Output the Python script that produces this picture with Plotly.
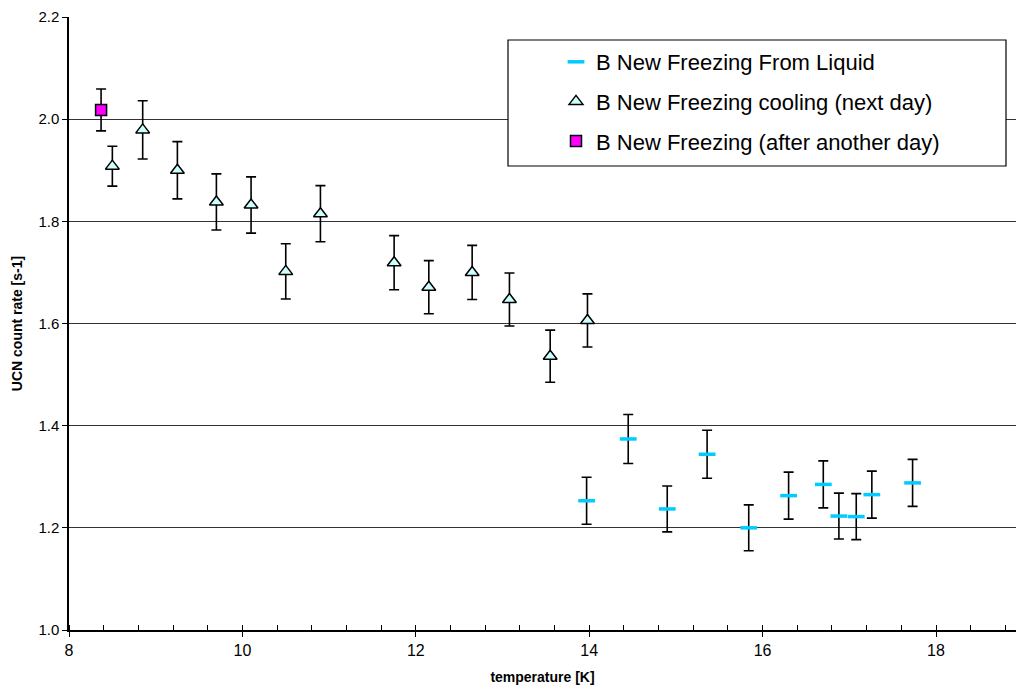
import plotly.graph_objects as go

# Series: B New Freezing From Liquid
liq_T = [13.97, 14.45, 14.90, 15.36, 15.84, 16.30, 16.70, 16.88, 17.08, 17.26, 17.73]
liq_R = [1.253, 1.374, 1.237, 1.344, 1.200, 1.263, 1.285, 1.223, 1.222, 1.265, 1.288]
liq_E = [0.046, 0.048, 0.045, 0.047, 0.045, 0.046, 0.046, 0.045, 0.045, 0.046, 0.046]

# Series: B New Freezing cooling (next day)
cool_T = [8.50, 8.85, 9.25, 9.70, 10.10, 10.50, 10.90, 11.75, 12.15, 12.65, 13.08, 13.55, 13.98]
cool_R = [1.908, 1.979, 1.900, 1.838, 1.832, 1.702, 1.815, 1.719, 1.671, 1.700, 1.647, 1.536, 1.606]
cool_E = [0.039, 0.057, 0.056, 0.055, 0.055, 0.054, 0.055, 0.053, 0.052, 0.053, 0.052, 0.051, 0.052]

# Series: B New Freezing (after another day)
day_T = [8.37]
day_R = [2.018]
day_E = [0.041]

names = ["B New Freezing From Liquid",
         "B New Freezing cooling (next day)",
         "B New Freezing (after another day)"]

x_ticks = [8, 10, 12, 14, 16, 18]
y_ticks = [1.0, 1.2, 1.4, 1.6, 1.8, 2.0, 2.2]

FONT = "Liberation Sans, Arial, sans-serif"

err_style = dict(type="data", visible=True, color="black", thickness=1.6, width=5)

fig = go.Figure()
fig.add_trace(go.Scatter(
    x=liq_T, y=liq_R, mode="markers", name=names[0], legendgroup="a",
    error_y=dict(array=liq_E, **err_style),
    marker=dict(symbol="line-ew", size=12, line=dict(color="#00CCFF", width=3.5)),
))
fig.add_trace(go.Scatter(
    x=cool_T, y=cool_R, mode="markers", name=names[1], legendgroup="b",
    error_y=dict(array=cool_E, **err_style),
    marker=dict(symbol="triangle-up", size=12, color="#CCFFFF",
                line=dict(color="black", width=1.5)),
))
fig.add_trace(go.Scatter(
    x=day_T, y=day_R, mode="markers", name=names[2], legendgroup="c",
    error_y=dict(array=day_E, **err_style),
    marker=dict(symbol="square", size=11, color="#FF00FF",
                line=dict(color="black", width=1.5)),
))

W, H = 1016, 692
L, R, T, B = 69, 0, 17, 62

# legend frame
fig.add_shape(type="rect", xref="paper", yref="paper",
              x0=(508 - L) / (W - L - R), x1=(1006 - L) / (W - L - R),
              y0=(H - B - 166) / (H - T - B), y1=(H - B - 40) / (H - T - B),
              line=dict(color="black", width=1.2), fillcolor="white", layer="above")

fig.update_layout(
    width=W, height=H,
    margin=dict(l=L, r=R, t=T, b=B),
    paper_bgcolor="white", plot_bgcolor="white",
    font=dict(family=FONT, color="black"),
    showlegend=True,
    legend=dict(
        x=(556 - L) / (W - L - R), xanchor="left",
        y=(H - B - 41) / (H - T - B), yanchor="top",
        bgcolor="rgba(0,0,0,0)", borderwidth=0,
        font=dict(size=22, family=FONT, color="black"),
        traceorder="grouped", tracegroupgap=8,
        itemwidth=30,
    ),
    xaxis=dict(
        range=[8, 8 + (W - L - R) / 86.7],
        tickvals=x_ticks, ticktext=[str(v) for v in x_ticks],
        ticks="outside", ticklen=5, tickwidth=1.2, tickcolor="black",
        minor=dict(dtick=0.4, tick0=8, ticks="inside", ticklen=5, tickwidth=1.2,
                   tickcolor="black", showgrid=False),
        showline=True, linecolor="black", linewidth=1.5,
        showgrid=False, zeroline=False,
        tickfont=dict(size=16, family=FONT),
        title=dict(text="<b>temperature [K]</b>", font=dict(size=14, family=FONT), standoff=14),
    ),
    yaxis=dict(
        range=[1.0, 2.2],
        tickvals=y_ticks, ticktext=["%.1f" % v for v in y_ticks],
        ticks="outside", ticklen=5, tickwidth=1.2, tickcolor="black",
        showline=True, linecolor="black", linewidth=1.5,
        showgrid=True, gridcolor="#333333", gridwidth=1,
        zeroline=False,
        tickfont=dict(size=15, family=FONT),
        title=dict(text="<b>UCN count rate [s-1]</b>", font=dict(size=14, family=FONT), standoff=12),
    ),
)

fig.write_html("out.html",
               config={"displayModeBar": False},
               post_script="document.body.style.margin='0';document.body.style.overflow='hidden';")
